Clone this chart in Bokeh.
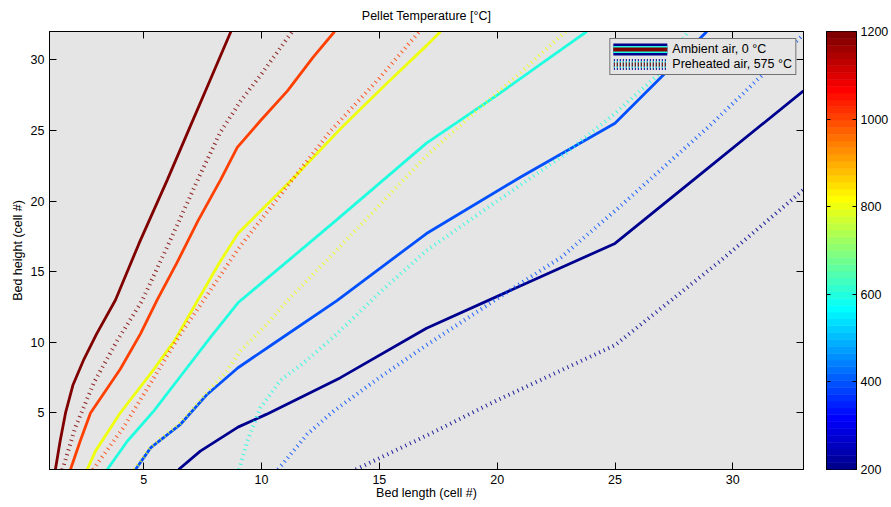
import numpy as np
from bokeh.plotting import figure
from bokeh.layouts import row
from bokeh.models import FixedTicker, LinearAxis, Legend, LegendItem, Range1d
from bokeh.embed import file_html
from bokeh.resources import INLINE

# ---------------- data ----------------
levels = [200, 400, 600, 800, 1000, 1200]
x_ticks = [5, 10, 15, 20, 25, 30]
y_ticks = [5, 10, 15, 20, 25, 30]
cb_ticks = [200, 400, 600, 800, 1000, 1200]

# Ambient air, 0 degC (solid contours)
amb_200_x = [6.48, 7.4, 9.0, 10.2, 13.35, 17.0, 21.0, 25.0, 29.0, 33.0]
amb_200_y = [1.0, 2.3, 4.0, 4.9, 7.5, 11.0, 14.0, 17.0, 22.4, 27.8]
amb_400_x = [4.65, 5.3, 6.56, 7.7, 9.0, 10.5, 13.2, 17.0, 21.0, 25.0, 28.9]
amb_400_y = [1.0, 2.55, 4.2, 6.33, 8.2, 9.9, 12.95, 17.7, 21.7, 25.5, 32.0]
amb_600_x = [3.45, 4.3, 5.43, 6.56, 7.83, 9.0, 13.0, 17.0, 20.0, 22.7, 23.8]
amb_600_y = [1.0, 3.0, 5.15, 7.6, 10.35, 12.8, 18.4, 24.1, 27.5, 30.7, 32.0]
amb_800_x = [2.6, 2.95, 4.0, 5.3, 6.3, 7.3, 8.2, 9.0, 11.4, 13.4, 15.3, 17.0, 17.6]
amb_800_y = [1.0, 2.3, 5.0, 7.8, 10.1, 13.0, 15.6, 17.7, 21.7, 25.2, 28.3, 31.0, 32.0]
amb_1000_x = [1.89, 2.3, 2.74, 4.0, 4.86, 5.57, 6.4, 7.3, 8.26, 8.97, 9.96, 11.1, 12.2, 13.1]
amb_1000_y = [1.0, 3.0, 5.0, 8.1, 10.6, 13.0, 15.6, 18.6, 21.5, 23.8, 25.7, 27.8, 30.2, 32.0]
amb_1200_x = [1.25, 1.45, 1.68, 2.0, 2.46, 3.0, 3.8, 4.8, 6.0, 6.9, 7.8, 8.7]
amb_1200_y = [1.0, 3.0, 5.0, 7.0, 8.8, 10.6, 13.0, 17.0, 21.5, 25.0, 28.5, 32.0]

# Preheated air, 575 degC (dotted contours)
pre_200_x = [14.0, 15.0, 17.0, 20.0, 25.0, 29.5, 33.0]
pre_200_y = [1.0, 1.8, 3.4, 5.9, 9.8, 15.8, 20.8]
pre_400_x = [10.7, 11.94, 13.07, 15.0, 17.0, 20.0, 22.7, 25.0, 29.0, 31.3, 33.0]
pre_400_y = [1.0, 3.5, 5.15, 7.5, 9.8, 13.1, 16.0, 19.3, 25.3, 29.0, 31.8]
pre_600_x = [9.05, 9.39, 9.96, 10.8, 11.9, 13.2, 15.0, 17.0, 20.0, 22.7, 25.0, 27.0, 28.1]
pre_600_y = [1.0, 3.0, 5.4, 7.3, 8.7, 10.6, 13.5, 16.5, 20.0, 23.1, 26.2, 29.2, 32.0]
pre_800_x = [4.6, 5.3, 6.56, 7.7, 8.5, 9.1, 10.24, 11.09, 13.0, 15.0, 17.0, 19.0, 21.0, 22.9]
pre_800_y = [1.0, 2.6, 4.3, 6.5, 7.9, 9.4, 11.3, 12.95, 16.2, 19.7, 23.2, 26.2, 29.1, 32.0]
pre_1000_x = [2.85, 4.15, 5.43, 6.56, 7.55, 9.0, 11.4, 12.9, 15.0, 16.7]
pre_1000_y = [1.0, 4.0, 7.5, 10.6, 13.0, 16.6, 21.7, 24.9, 28.7, 32.0]
pre_1200_x = [1.55, 2.1, 2.9, 3.9, 4.93, 6.2, 7.4, 8.26, 9.1, 10.0, 11.3]
pre_1200_y = [1.0, 4.0, 7.2, 10.2, 12.95, 17.5, 21.9, 24.9, 27.05, 29.0, 32.0]

amb_lines = {200: (amb_200_x, amb_200_y), 400: (amb_400_x, amb_400_y),
             600: (amb_600_x, amb_600_y), 800: (amb_800_x, amb_800_y),
             1000: (amb_1000_x, amb_1000_y), 1200: (amb_1200_x, amb_1200_y)}
pre_lines = {200: (pre_200_x, pre_200_y), 400: (pre_400_x, pre_400_y),
             600: (pre_600_x, pre_600_y), 800: (pre_800_x, pre_800_y),
             1000: (pre_1000_x, pre_1000_y), 1200: (pre_1200_x, pre_1200_y)}


# ---------------- MATLAB jet colormap ----------------
def jet(m=64):
    n = int(np.ceil(m / 4))
    u = np.concatenate([np.arange(1, n + 1) / n, np.ones(n - 1), np.arange(n, 0, -1) / n])
    g = int(np.ceil(n / 2)) - (1 if m % 4 == 1 else 0) + np.arange(1, len(u) + 1)
    r = g + n
    b = g - n
    J = np.zeros((m, 3))
    rr = r[r <= m]
    J[rr - 1, 0] = u[:len(rr)]
    gg = g[g <= m]
    J[gg - 1, 1] = u[:len(gg)]
    bb = b[b >= 1]
    J[bb - 1, 2] = u[len(u) - len(bb):]
    return ["#%02x%02x%02x" % tuple(int(round(c * 255)) for c in rgb) for rgb in J]


JET = jet(64)
CMIN, CMAX = 200, 1200


def level_color(v):
    i = min(63, int((v - CMIN) / (CMAX - CMIN) * 64))
    return JET[i]


FONT = "Liberation Sans"
FS = "12.5px"
BG = "#e5e5e5"
H = 507
TOP, BOTTOM = 31, 38

# ---------------- main figure ----------------
p = figure(width=814, height=H, x_range=Range1d(1, 33), y_range=Range1d(1, 32),
           output_backend="svg", toolbar_location=None,
           min_border_left=49, min_border_right=11, min_border_top=TOP, min_border_bottom=BOTTOM,
           background_fill_color=BG, border_fill_color="white",
           outline_line_color="black", outline_line_width=1)
p.xgrid.visible = False
p.ygrid.visible = False


def style_axis(ax, ticks, label=None, show_labels=True):
    ax.ticker = FixedTicker(ticks=ticks)
    ax.major_tick_in = 7
    ax.major_tick_out = 0
    ax.minor_tick_line_color = None
    ax.major_tick_line_color = "black"
    ax.axis_line_color = "black"
    ax.major_label_text_font = FONT
    if show_labels:
        ax.major_label_text_font_size = FS
        ax.major_label_text_color = "black"
        ax.major_label_standoff = 5
    else:
        # tick marks only (MATLAB box ticks): labels are not drawn
        ax.major_label_text_font_size = "1px"
        ax.major_label_text_color = None
        ax.major_label_standoff = 0
    if label:
        ax.axis_label = label
        ax.axis_label_text_font = FONT
        ax.axis_label_text_font_size = FS
        ax.axis_label_text_font_style = "normal"
        ax.axis_label_text_color = "black"
        ax.axis_label_standoff = -1


style_axis(p.xaxis[0], x_ticks, "Bed length (cell #)")
style_axis(p.yaxis[0], y_ticks, "Bed height (cell #)")
p.yaxis[0].axis_label_standoff = 3
# top box axis: tick marks only, carries the chart title
top_ax = LinearAxis()
style_axis(top_ax, x_ticks, label="Pellet Temperature [°C]", show_labels=False)
top_ax.axis_label_standoff = 9
p.add_layout(top_ax, "above")
right_ax = LinearAxis()
style_axis(right_ax, y_ticks, show_labels=False)
p.add_layout(right_ax, "right")

for v in levels:
    xs, ys = amb_lines[v]
    p.line(xs, ys, line_color=level_color(v), line_width=2.8)
for v in levels:
    xs, ys = pre_lines[v]
    p.line(xs, ys, line_color=level_color(v), line_width=4, line_dash="1 4", line_alpha=0.85)

# legend sample glyphs (hidden copies of the contours, used only for the legend icons)
leg_a = [p.line(amb_200_x, amb_200_y, line_color=level_color(200), line_width=12, line_cap="round", visible=False),
         p.line(amb_600_x, amb_600_y, line_color=level_color(600), line_width=7, line_cap="round", visible=False),
         p.line(amb_1200_x, amb_1200_y, line_color=level_color(1200), line_width=4, line_cap="round", visible=False)]
leg_b = [p.line(pre_200_x, pre_200_y, line_color=level_color(200), line_width=11, line_dash="1 2", visible=False),
         p.line(pre_600_x, pre_600_y, line_color=level_color(600), line_width=7, line_dash="1 2", visible=False),
         p.line(pre_1200_x, pre_1200_y, line_color=level_color(1200), line_width=4, line_dash="1 2", visible=False)]

legend = Legend(items=[LegendItem(label="Ambient air, 0 °C", renderers=leg_a),
                       LegendItem(label="Preheated air, 575 °C", renderers=leg_b)],
                location="top_right", margin=7, padding=3, spacing=1,
                glyph_width=54, glyph_height=14, label_height=14, label_standoff=5,
                label_text_font=FONT, label_text_font_size=FS, label_text_color="black",
                background_fill_color=BG, background_fill_alpha=1.0,
                border_line_color="black", border_line_width=1)
p.add_layout(legend)

# ---------------- colour bar figure ----------------
cb = figure(width=77, height=H, x_range=Range1d(0, 1), y_range=Range1d(CMIN, CMAX),
            output_backend="svg", toolbar_location=None, y_axis_location="right",
            min_border_left=12, min_border_right=34, min_border_top=TOP, min_border_bottom=BOTTOM,
            border_fill_color="white", outline_line_color="black")
cb.xaxis.visible = False
cb.xgrid.visible = False
cb.ygrid.visible = False
step = (CMAX - CMIN) / len(JET)
bottoms = [CMIN + i * step for i in range(len(JET))]
tops = [b + step for b in bottoms]
cb.quad(left=0, right=1, bottom=bottoms, top=tops, fill_color=JET, line_color=JET, line_width=0.6)
style_axis(cb.yaxis[0], cb_ticks)
cb.yaxis[0].major_tick_in = 4
cb.yaxis[0].major_label_standoff = 4
cb_left = LinearAxis()
style_axis(cb_left, cb_ticks, show_labels=False)
cb_left.major_tick_in = 4
cb.add_layout(cb_left, "left")

layout = row(p, cb)
open("out.html", "w").write(file_html(layout, INLINE))
